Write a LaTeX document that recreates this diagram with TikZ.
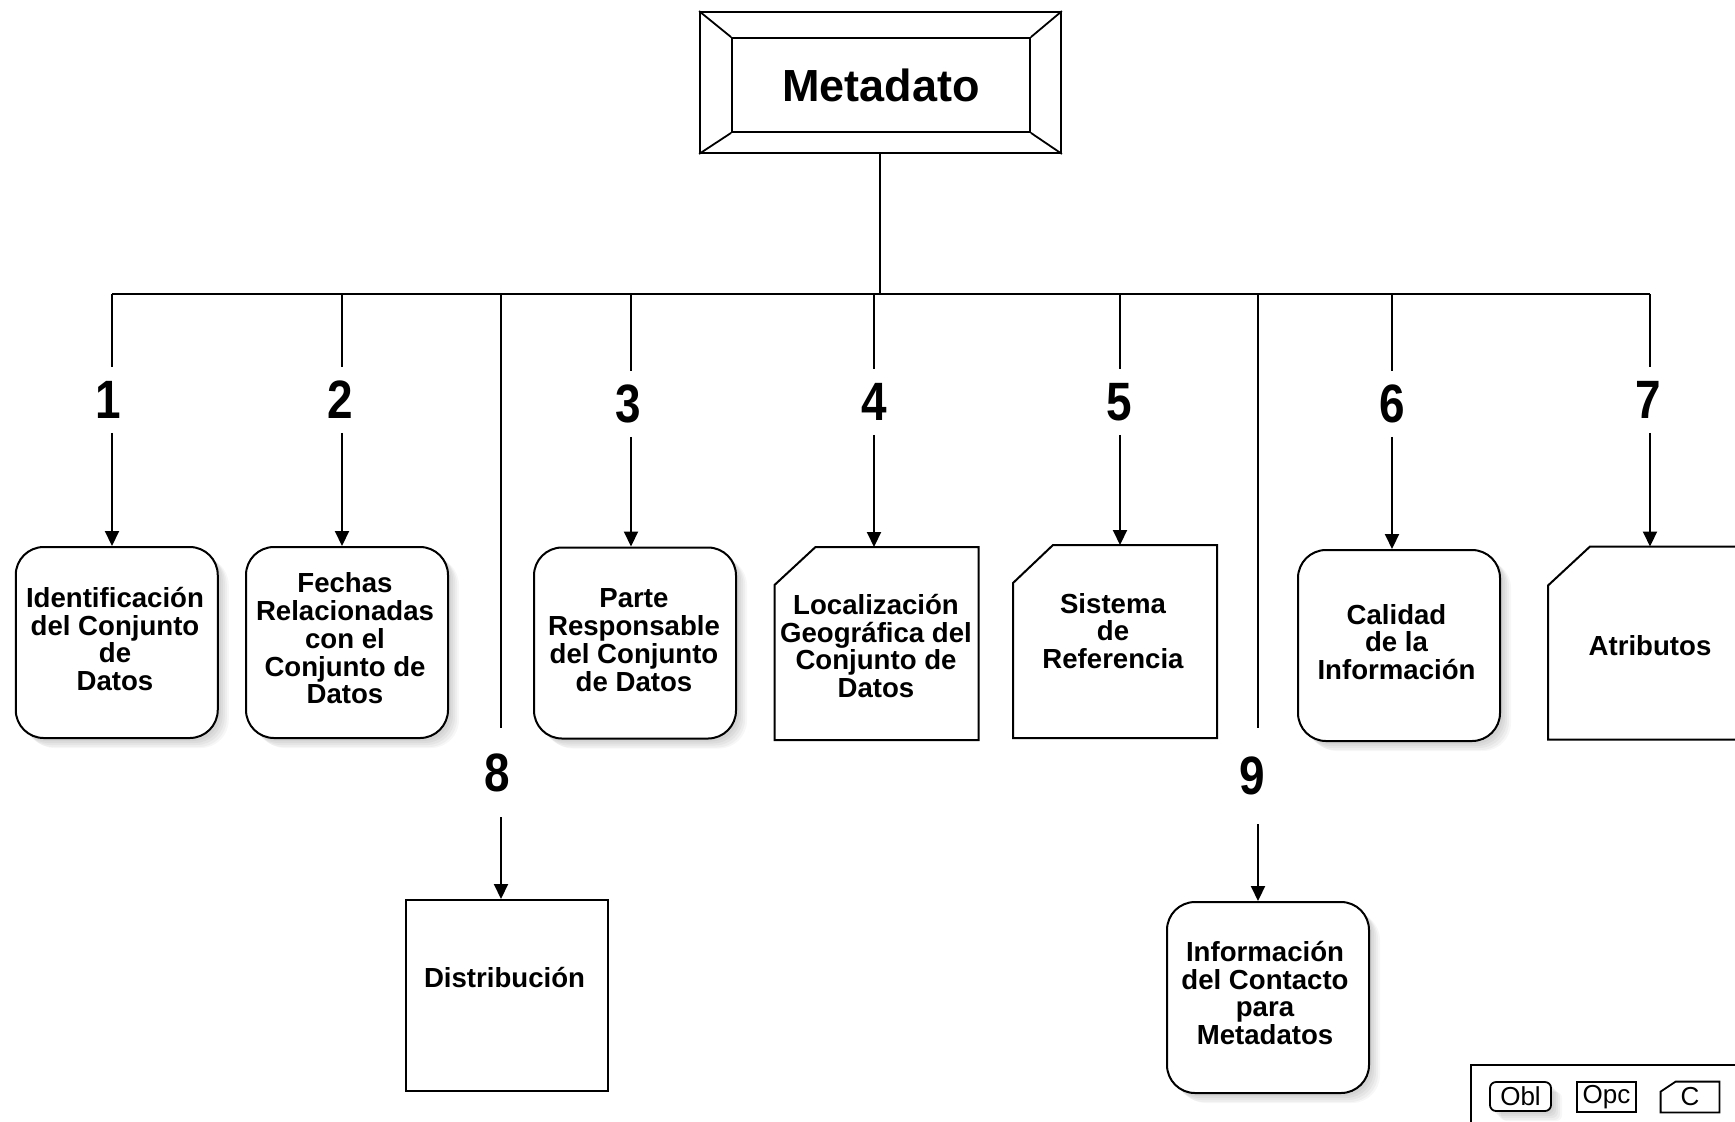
\documentclass[tikz,border=0pt]{standalone}
\usepackage{fontspec}
\setmainfont{Liberation Sans}
\usepackage{graphicx}
\usetikzlibrary{arrows.meta,calc}
\newcommand\cnum[1]{\scalebox{0.85}[1]{#1}}
\tikzset{
  conn/.style={line width=1pt},
  arr/.style={line width=1pt,-{Triangle[width=7pt,length=7.5pt]}},
  box/.style={draw, line width=1pt, minimum width=101pt, minimum height=95.5pt, inner sep=0pt, fill=white},
  softshadow/.style={
    preaction={fill=black,fill opacity=0.035,transform canvas={xshift=1.5pt,yshift=-1.5pt}},
    preaction={fill=black,fill opacity=0.035,transform canvas={xshift=2.5pt,yshift=-2.5pt}},
    preaction={fill=black,fill opacity=0.035,transform canvas={xshift=3.5pt,yshift=-3.5pt}},
    preaction={fill=black,fill opacity=0.035,transform canvas={xshift=4.5pt,yshift=-4.5pt}},
    preaction={fill=black,fill opacity=0.03,transform canvas={xshift=5.5pt,yshift=-5pt}}},
  oblbox/.style={box, rounded corners=14pt, softshadow},
  opcbox/.style={box},
  condbox/.style={box, draw=none},
  chamf/.style={line width=1pt},
  lbl/.style={font=\fontsize{13.8}{13.9}\selectfont\bfseries, align=center, inner sep=0pt},
  num/.style={font=\fontsize{27}{27}\selectfont\bfseries, inner sep=0pt, minimum height=32.5pt},
  legtxt/.style={font=\fontsize{13}{13}\selectfont, inner sep=0pt},
}
\begin{document}
\begin{tikzpicture}[x=0.5pt,y=-0.5pt]
\useasboundingbox (0,0) rectangle (1735,1121);
\clip (0,0) rectangle (1735,1121);
\fill[white] (0,0) rectangle (1735,1121);

% title
\node[draw, line width=0.9pt, minimum width=180.5pt, minimum height=70.5pt, inner sep=0pt] (metaout) at (880.5,82.5) {};
\node[draw, line width=0.9pt, minimum width=149pt, minimum height=47pt, inner sep=0pt,
      font=\fontsize{22.5}{22.5}\selectfont\bfseries] (meta) at (881,85) {Metadato};
\draw[line width=0.9pt] (metaout.north west) -- (meta.north west)
  (metaout.north east) -- (meta.north east)
  (metaout.south west) -- (meta.south west)
  (metaout.south east) -- (meta.south east);

% bus
\coordinate (bus) at (880,294);
\coordinate (c1) at (112,294);
\coordinate (c2) at (342,294);
\coordinate (c8) at (501,294);
\coordinate (c3) at (631,294);
\coordinate (c4) at (874,294);
\coordinate (c5) at (1120,294);
\coordinate (c9) at (1258,294);
\coordinate (c6) at (1392,294);
\coordinate (c7) at (1650,294);
\draw[conn] (metaout.south -| bus) -- (bus);
\draw[conn] (c1) -- (c7);

% boxes
\node[oblbox] (b1) at (116.75,642.5) {};
\node[oblbox] (b2) at (347,642.5) {};
\node[oblbox] (b3) at (635,643) {};
\node[condbox] (b4) at (876.5,643.5) {};
\node[condbox] (b5) at (1115,641.5) {};
\node[oblbox] (b6) at (1399,645.5) {};
\node[condbox] (b7) at (1650,643) {};
\node[opcbox] (b8) at (507,995.5) {};
\node[oblbox] (b9) at (1268,997.5) {};

\draw[chamf] ($(b4.north west)+(41,0)$) -- (b4.north east) -- (b4.south east) -- (b4.south west) -- ($(b4.north west)+(0,38)$) -- cycle;
\draw[chamf] ($(b5.north west)+(40,0)$) -- (b5.north east) -- (b5.south east) -- (b5.south west) -- ($(b5.north west)+(0,38)$) -- cycle;
\draw[chamf] ($(b7.north west)+(42,0)$) -- (b7.north east) -- (b7.south east) -- (b7.south west) -- ($(b7.north west)+(0,39)$) -- cycle;

% texts
\node[lbl] (t1) at (115,639) {Identificación\\del Conjunto\\de\\Datos};
\node[lbl] (t2) at (345,638.5) {Fechas\\Relacionadas\\con el\\Conjunto de\\Datos};
\node[lbl] (t3) at (634,640) {Parte\\Responsable\\del Conjunto\\de Datos};
\node[lbl] (t4) at (876,646) {Localización\\Geográfica del\\Conjunto de\\Datos};
\node[lbl] (t5) at (1113,631) {Sistema\\de\\Referencia};
\node[lbl] (t6) at (1396.5,642) {Calidad\\de la\\Información};
\node[lbl] (t7) at (1650,646) {Atributos};
\node[lbl] (t8) at (504.5,977) {Distribución};
\node[lbl] (t9) at (1265,993) {Información\\del Contacto\\para\\Metadatos};

% numbers
\node[num] (n1) at (108.5,400) {\cnum{1}};
\node[num] (n2) at (340,400) {\cnum{2}};
\node[num] (n3) at (628,404) {\cnum{3}};
\node[num] (n4) at (874,402) {\cnum{4}};
\node[num] (n5) at (1119,402) {\cnum{5}};
\node[num] (n6) at (1392,404) {\cnum{6}};
\node[num] (n7) at (1648,400) {\cnum{7}};
\node[num, minimum height=44.5pt] (n8) at (497.5,772.5) {\cnum{8}};
\node[num, minimum height=48pt] (n9) at (1252.5,776) {\cnum{9}};

\foreach \i in {1,2,3,4,5,6,7,8,9}{
  \draw[conn] (c\i) -- (c\i |- n\i.north);
  \draw[arr] (c\i |- n\i.south) -- (c\i |- b\i.north);
}

% legend
\coordinate (legtl) at (1471,1065);
\draw[line width=0.9pt] (legtl |- 0,1130) -- (legtl) -- (1745,1065);
\node[draw, line width=0.9pt, rounded corners=3pt, minimum width=30.5pt, minimum height=14.5pt, inner sep=0pt, fill=white, softshadow, legtxt] (lobl) at (1520.5,1096.5) {Obl};
\node[draw, line width=0.9pt, minimum width=29.5pt, minimum height=15pt, inner sep=0pt, legtxt] (lopc) at (1606.5,1097) {Opc};
\node[minimum width=29pt, minimum height=15pt, inner sep=0pt, legtxt] (lc) at (1690,1097) {C};
\draw[line width=0.9pt] ($(lc.north west)+(15,0)$) -- (lc.north east) -- (lc.south east) -- (lc.south west) -- ($(lc.north west)+(0,10)$) -- cycle;
\end{tikzpicture}
\end{document}
